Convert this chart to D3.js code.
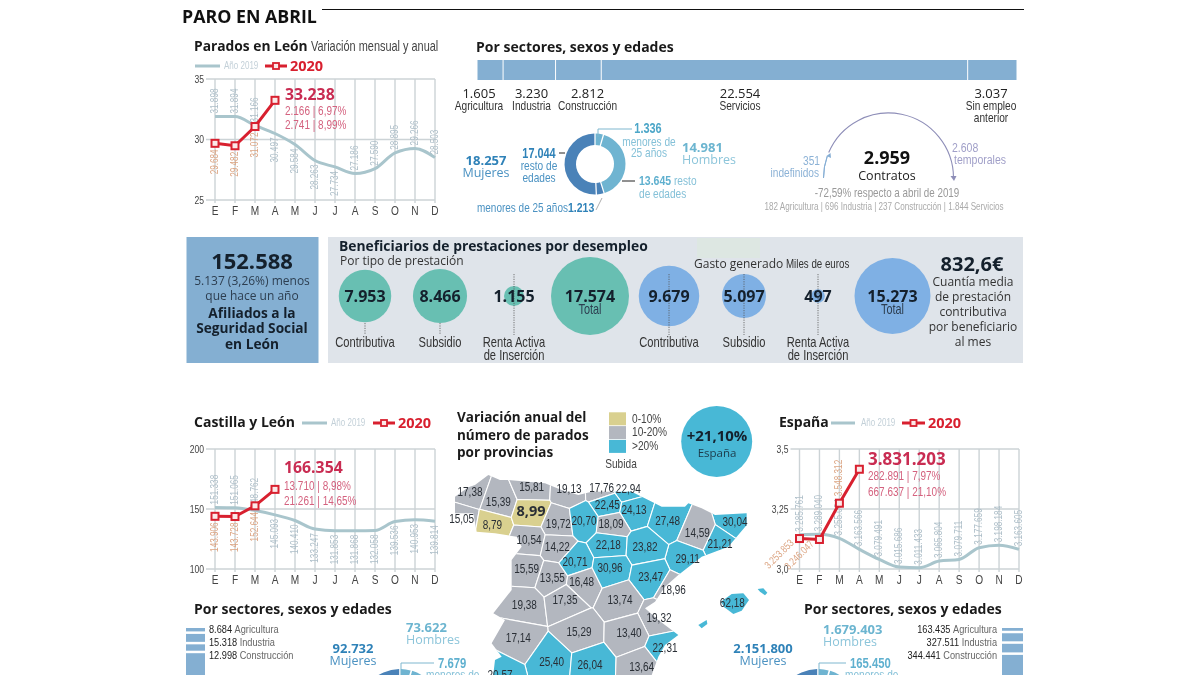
<!DOCTYPE html>
<html><head><meta charset="utf-8">
<script src="https://cdnjs.cloudflare.com/ajax/libs/d3/7.8.5/d3.min.js"></script>
<style>html,body{margin:0;padding:0;background:#fff;overflow:hidden}svg{display:block;filter:blur(.3px)}</style>
</head><body><svg id="c" width="1200" height="675"></svg>
<script>
const months=["E","F","M","A","M","J","J","A","S","O","N","D"];
const leon2019=[31898,31894,31166,30497,29584,28263,27734,27186,27590,28895,29266,28503];
const leon2020=[29684,29482,31072,33238];
const cyl2019=[151338,151065,148762,145093,140410,133247,131853,131868,132058,139536,140953,139814];
const cyl2020=[143906,143728,152644,166354];
const esp2019=[3285761,3289040,3255084,3163566,3079491,3015686,3011433,3065804,3079711,3177659,3198184,3163605];
const esp2020=[3253853,3246047,3548312,3831203];
const sectorNames=["Agricultura","Industria","Construcción","Servicios","Sin empleo anterior"];
const sectorLeon=[1605,3230,2812,22554,3037];
const sectorCyl=[8684,15318,12998,112000,17354];
const sectorEsp=[163435,327511,344441,2640000,355816];
const donutLeon=[1336,13645,1213,17044];
const contratos=[351,2608];
const prestaciones=[7953,8466,1155,17574];
const gasto=[9679,5097,497,15273];
const provValues=[17.38,15.39,15.81,19.13,17.76,22.94,22.45,24.13,27.48,30.04,14.59,21.21,29.11,15.05,8.79,8.99,19.72,20.70,18.09,10.54,14.22,22.18,23.82,15.59,13.55,20.71,16.48,30.96,23.47,18.96,19.38,17.35,13.74,19.32,17.14,15.29,13.40,22.31,25.40,26.04,13.64,20.57];
const provX=[75,160,260,372,470,550,487,567,668,870,757,825,728,50,142,258,340,417,498,252,337,490,600,245,322,390,410,495,617,685,238,360,525,642,220,402,552,660,320,435,590,165];
const provY=[275,305,262,268,265,268,315,330,362,365,400,432,478,358,375,337,372,362,372,420,440,435,442,508,533,487,547,505,530,570,615,600,600,655,715,697,700,745,785,795,800,825];
const spainX=[30,70,90,130,165,190,300,350,400,440,510,560,610,650,720,730,770,810,905,905,850,770,700,660,630,600,640,680,700,660,640,620,640,660,130,150,170,140,180,145,200,200,230,215,150,95,85,30];
const spainY=[290,262,255,225,240,240,250,270,285,275,275,275,300,320,320,310,325,345,340,375,440,470,525,560,605,625,660,690,705,735,770,825,860,950,950,780,770,730,660,640,570,480,440,410,400,395,340,340];
const mallorcaX=[828,860,895,912,890,865,838];
const mallorcaY=[605,582,580,600,632,642,622];
const menorcaX=[938,955,967,960,945],menorcaY=[567,565,578,586,575];
const ibizaX=[760,785,787,770],ibizaY=[675,660,672,685];
const legendLabels=["0-10%","10-20%",">20%"];
const C={red:"#d8202f",red2:"#c92c52",pink:"#d4627f",line:"#a9c5cc",grid:"#ccd3d6",dark:"#1c2430",blue:"#84afd2",map:"#48b8d6",gray:"#b3b7bf",khaki:"#d9d08f"};
const OS="'Open Sans',sans-serif",NW="'Liberation Sans',sans-serif",NARROW=.78;
const fmt=d3.format(",.0f"),es=v=>fmt(v).replace(/,/g,".");
const svg=d3.select("#c");
function T(x,y,s,o={}){const n=!o.f||o.f===NW;
 const t=svg.append("text").text(s).attr("font-family",o.f||NW).attr("font-size",o.s||11).attr("font-weight",o.w||400)
 .attr("fill",o.c||"#333").attr("text-anchor",o.a||"start");
 if(n)t.attr("transform",`translate(${x},${y}) scale(${NARROW},1)`);else t.attr("x",x).attr("y",y);
 return t;}
function L(x1,y1,x2,y2,c,w,dash){const l=svg.append("line").attr("x1",x1).attr("y1",y1).attr("x2",x2).attr("y2",y2).attr("stroke",c).attr("stroke-width",w||1);if(dash)l.attr("stroke-dasharray",dash);return l;}

// Title
T(182,23,"PARO EN ABRIL",{f:OS,s:17.8,w:700,c:"#111"});
L(322,9.5,1024,9.5,"#111",1);

function lineChart(cfg){
 const x=d3.scalePoint().domain(d3.range(12)).range(cfg.xr);
 const y=d3.scaleLinear().domain(cfg.domain).range(cfg.yr);
 const g=svg.append("g");
 x.domain().forEach(i=>g.append("line").attr("x1",x(i)).attr("x2",x(i)).attr("y1",cfg.yr[1]).attr("y2",cfg.yr[0]+3).attr("stroke",C.grid).attr("stroke-width",1.4));
 cfg.ticks.forEach((t,i)=>{const yy=y(t);
  g.append("line").attr("x1",cfg.xr[0]-9).attr("x2",cfg.xr[1]).attr("y1",yy).attr("y2",yy).attr("stroke",C.grid).attr("stroke-width",1.4);
  g.append("text").attr("transform",`translate(${cfg.xr[0]-11},${yy+3.5}) scale(${NARROW},1)`).attr("text-anchor","end").attr("font-family",NW).attr("font-size",11).attr("fill","#444").text(cfg.tickLabels[i]);});
 months.forEach((m,i)=>g.append("text").attr("transform",`translate(${x(i)},${cfg.yr[0]+15}) scale(${NARROW},1)`).attr("text-anchor","middle").attr("font-family",NW).attr("font-size",13).attr("fill","#444").text(m));
 const ln=d3.line().x((d,i)=>x(i)).y(d=>y(d));
 g.append("path").attr("d",ln.curve(d3.curveMonotoneX)(cfg.a)).attr("fill","none").attr("stroke",C.line).attr("stroke-width",3);
 cfg.a.forEach((v,i)=>{const above=cfg.above.includes(i),yy=y(v)+(above?-3:4);
  g.append("text").attr("transform",`translate(${x(i)+3},${yy}) rotate(-90) scale(${NARROW},1)`).attr("text-anchor",above?"start":"end")
   .attr("font-family",NW).attr("font-size",10.5).attr("fill","#aebfc9").text(es(v));});
 const l2=d3.line().x((d,i)=>x(i)).y(d=>y(d));
 g.append("path").attr("d",l2(cfg.b)).attr("fill","none").attr("stroke",C.red).attr("stroke-width",3);
 cfg.b.forEach((v,i)=>{
  g.append("rect").attr("x",x(i)-3.5).attr("y",y(v)-3.5).attr("width",7).attr("height",7).attr("fill","#fbe9e9").attr("stroke",C.red).attr("stroke-width",2);
  if(i<3){let tr;
   if(cfg.diag&&i<2) tr=`translate(${x(i)-5},${y(v)+5}) rotate(-45) scale(${NARROW},1)`;
   else if(cfg.aboveB&&cfg.aboveB.includes(i)) tr=`translate(${x(i)+3},${y(v)-7}) rotate(-90) scale(${NARROW},1)`;
   else tr=`translate(${x(i)+3},${y(v)+6}) rotate(-90) scale(${NARROW},1)`;
   const up=cfg.aboveB&&cfg.aboveB.includes(i);
   g.append("text").attr("transform",tr).attr("text-anchor",up?"start":"end").attr("font-family",NW).attr("font-size",10.5).attr("fill","#dca583").text(es(v));}
 });
 const lx=cfg.legX;
 L(lx[0],cfg.legY,lx[1],cfg.legY,C.line,3);
 T(lx[2],cfg.legY+3,"Año 2019",{s:10.3,c:"#c3d0d8"});
 L(lx[3],cfg.legY,lx[4],cfg.legY,C.red,3);
 svg.append("rect").attr("x",(lx[3]+lx[4])/2-3).attr("y",cfg.legY-3).attr("width",6).attr("height",6).attr("fill","#fbe9e9").attr("stroke",C.red).attr("stroke-width",1.8);
 T(lx[5],cfg.legY+5,"2020",{f:OS,s:14.5,w:700,c:C.red});
 T(cfg.an[0],cfg.an[1],es(cfg.b[3]),{f:OS,s:cfg.an[2],w:700,c:C.red2});
 T(cfg.an[0],cfg.an[3],cfg.an[5],{s:12.8,c:C.pink});
 T(cfg.an[0],cfg.an[4],cfg.an[6],{s:12.8,c:C.pink});
}
T(194,51,"Parados en León",{f:OS,s:13.8,w:700,c:"#1a1a1a"});
T(311,51,"Variación mensual y anual",{s:14,c:"#444"});
lineChart({a:leon2019,b:leon2020,xr:[215,435],yr:[200,79],domain:[25000,35000],ticks:[25000,30000,35000],tickLabels:["25","30","35"],
 above:[0,1,2,7,8,9,10,11],legX:[195,220,224,265,287,290],legY:66,an:[285,100,15.8,115,129,"2.166 | 6,97%","2.741 | 8,99%"]});
T(194,427,"Castilla y León",{f:OS,s:14,w:700,c:"#1a1a1a"});
lineChart({a:cyl2019,b:cyl2020,xr:[215,435],yr:[569,449],domain:[100000,200000],ticks:[100000,150000,200000],tickLabels:["100","150","200"],
 above:[0,1,2],legX:[302,327,331,373,395,398],legY:423,an:[284,473,15.8,490,505,"13.710 | 8,98%","21.261 | 14,65%"]});
T(779,427,"España",{f:OS,s:14,w:700,c:"#1a1a1a"});
lineChart({a:esp2019,b:esp2020,xr:[799.5,1019],yr:[569,449],domain:[3000000,4000000],ticks:[3000000,3500000,4000000],tickLabels:["3,0","3,25","3,5"],
 above:d3.range(12),aboveB:[2],diag:true,legX:[831,855,861,902,925,928],legY:423,an:[868,465,17,480,496,"282.891 | 7,97%","667.637 | 21,10%"]});

// Sector bar
T(476,52,"Por sectores, sexos y edades",{f:OS,s:14,w:700,c:"#1a1a1a"});
const sx=d3.scaleLinear().domain([0,d3.sum(sectorLeon)]).range([477,1017]);
let acc=0;sectorLeon.forEach(v=>{svg.append("rect").attr("x",sx(acc)+.5).attr("y",60).attr("width",sx(v)-sx(0)-1).attr("height",20).attr("fill",C.blue);acc+=v;});
[[479,"Agricultura"],[531.5,"Industria"],[587.5,"Construcción"],[740,"Servicios"],[991,"Sin empleo"]].forEach((d,i)=>{
 T(d[0],98,es(sectorLeon[i]),{f:OS,s:13,a:"middle",c:"#222"});T(d[0],110,d[1],{s:13,a:"middle",c:"#333"});});
T(991,122,"anterior",{s:13,a:"middle",c:"#333"});

// Donut
const pie=d3.pie().sort(null).padAngle(.035);
function donut(cx,cy,r0,r1){
 const arc=d3.arc().innerRadius(r0).outerRadius(r1),cols=["#6fb4d1","#6fb4d1","#4a82b8","#4a82b8"];
 svg.append("g").attr("transform",`translate(${cx},${cy})`).selectAll("path").data(pie(donutLeon)).join("path").attr("d",arc).attr("fill",(d,i)=>cols[i]);
}
donut(595,164,19,30.5);
T(648,133,es(donutLeon[0]),{s:14,w:700,a:"middle",c:"#4ca6c8"});
T(649,146,"menores de",{s:13,a:"middle",c:"#85c1d8"});T(649,157,"25 años",{s:13,a:"middle",c:"#85c1d8"});
svg.append("path").attr("d","M598 137V129H632").attr("fill","none").attr("stroke","#7fb7cf");
T(682,152,"14.981",{f:OS,s:13,w:700,c:"#6cb5d0"});T(682,164,"Hombres",{f:OS,s:12.5,c:"#8cc5da"});
T(486,165,"18.257",{f:OS,s:13,w:700,a:"middle",c:"#2f82b8"});T(486,177,"Mujeres",{f:OS,s:12.5,a:"middle",c:"#4b92c2"});
T(539,158,es(donutLeon[3]),{s:14,w:700,a:"middle",c:"#2f82b8"});
T(539,170,"resto de",{s:13,a:"middle",c:"#4b92c2"});T(539,182,"edades",{s:13,a:"middle",c:"#4b92c2"});
L(559,153,565,153,"#222",1);L(622,181,635,181,"#222",1);
T(639,185,es(donutLeon[1]),{s:13.5,w:700,c:"#5fb0cf"});T(674,185,"resto",{s:13,c:"#85c1d8"});T(639,198,"de edades",{s:13,c:"#85c1d8"});
T(477,212,"menores de 25 años",{s:12.8,c:"#4b92c2"});T(568,212,es(donutLeon[2]),{s:13.5,w:700,c:"#2f82b8"});
L(596,210,602,198,"#999",.8);

// Contratos arc
const ang=d3.scaleLinear().domain([0,d3.sum(contratos)]).range([-Math.PI/2,Math.PI/2]);
const ca=d3.arc().innerRadius(65).outerRadius(65);
const cg=svg.append("g").attr("transform","translate(888.5,178)");
cg.append("path").attr("d",ca({startAngle:ang(0),endAngle:ang(contratos[0])-.03})).attr("fill","none").attr("stroke","#86aed4").attr("stroke-width",1);
cg.append("path").attr("d",ca({startAngle:ang(contratos[0])+.03,endAngle:ang(contratos[0]+contratos[1])})).attr("fill","none").attr("stroke","#8e8eb8").attr("stroke-width",1.1);
svg.append("path").attr("d","M826.5 156l4-3 .5 5z").attr("fill","#86aed4");
svg.append("path").attr("d","M950.5 176l3.5 5 2.5-5z").attr("fill","#8e8eb8");
T(887,164,"2.959",{f:OS,s:18,w:700,a:"middle",c:"#111"});
T(887,180,"Contratos",{f:OS,s:12.5,a:"middle",c:"#222"});
T(820,165,"351",{s:13,a:"end",c:"#8cb2d6"});T(819,177,"indefinidos",{s:13,a:"end",c:"#8cb2d6"});
T(952,152,"2.608",{s:13.5,c:"#a09fc8"});T(954,164,"temporales",{s:13.5,c:"#a09fc8"});
T(887,197,"-72,59% respecto a abril de 2019",{s:12.6,a:"middle",c:"#999"});
T(884,210,"182 Agricultura | 696 Industria | 237 Construcción | 1.844 Servicios",{s:10.4,a:"middle",c:"#aaa"});

// Afiliados panel
svg.append("rect").attr("x",186.5).attr("y",237).attr("width",132).attr("height",126).attr("fill",C.blue);
T(252,269,"152.588",{f:OS,s:22,w:700,a:"middle",c:"#14202c"});
T(252,285,"5.137 (3,26%) menos",{f:OS,s:12,a:"middle",c:"#2d3e50"});
T(252,300,"que hace un año",{f:OS,s:12,a:"middle",c:"#2d3e50"});
["Afiliados a la","Seguridad Social","en León"].forEach((s,i)=>T(252,318+i*15.3,s,{f:OS,s:13.7,w:700,a:"middle",c:"#14202c"}));

// Benefits panel
svg.append("rect").attr("x",328).attr("y",237).attr("width",695).attr("height",126).attr("fill","#dfe4ea");
svg.append("rect").attr("x",697).attr("y",238).attr("width",63).attr("height",20).attr("fill","#dde7e2");
T(339,251,"Beneficiarios de prestaciones por desempleo",{f:OS,s:13.85,w:700,c:"#14202c"});
T(340,265,"Por tipo de prestación",{f:OS,s:12,c:"#333"});
T(694,268,"Gasto generado",{f:OS,s:12,c:"#333"});T(786,268,"Miles de euros",{s:12.5,c:"#333"});
const rT=d3.scaleSqrt().domain([0,d3.max(prestaciones)]).range([0,39]);
const rB=d3.scaleSqrt().domain([0,d3.max(gasto)]).range([0,38]);
const tipos=["Contributiva","Subsidio",["Renta Activa","de Inserción"],null];
function bubbles(vals,xs,r,col,dots){
 vals.forEach((v,i)=>{
  svg.append("circle").attr("cx",xs[i]).attr("cy",296).attr("r",r(v)).attr("fill",col);
  if(dots[i])L(xs[i],dots[i][0],xs[i],dots[i][1],"#555",.8,"1.2 1.2");
  T(xs[i],302,es(v),{f:OS,s:16,w:700,a:"middle",c:"#14202c"});
  if(i===3)T(xs[i],314,"Total",{s:14,a:"middle",c:"#2d3e50"});
  const n=tipos[i];
  if(Array.isArray(n)){T(xs[i],347,n[0],{s:14.3,a:"middle",c:"#333"});T(xs[i],360,n[1],{s:14.3,a:"middle",c:"#333"});}
  else if(n)T(xs[i],347,n,{s:14.3,a:"middle",c:"#333"});
 });
}
bubbles(prestaciones,[365,440,514,590],rT,"#68bfb2",[[323,335],[323,335],[274,335],null]);
bubbles(gasto,[669,744,818,892.5],rB,"#7fb0e4",[[274,335],[274,335],[274,335],null]);
T(972,271,"832,6€",{f:OS,s:20,w:700,a:"middle",c:"#14202c"});
["Cuantía media","de prestación","contributiva","por beneficiario","al mes"].forEach((s,i)=>T(973,286+i*15.1,s,{f:OS,s:12,a:"middle",c:"#333"}));

// Map
["Variación anual del","número de parados","por provincias"].forEach((s,i)=>T(457,422+i*17.5,s,{f:OS,s:13.5,w:700,c:"#1a1a1a"}));
const mcol=d3.scaleThreshold().domain([10,20]).range([C.khaki,C.gray,C.map]);
legendLabels.forEach((s,i)=>{
 svg.append("rect").attr("x",609).attr("y",412.3+i*13.8).attr("width",17).attr("height",13).attr("fill",mcol.range()[i]);
 T(632,422.5+i*13.8,s,{s:13,c:"#444"});});
T(621,468,"Subida",{s:13,a:"middle",c:"#444"});
svg.append("circle").attr("cx",716.7).attr("cy",441.5).attr("r",35.5).attr("fill",C.map);
T(717,441,"+21,10%",{f:OS,s:15,w:700,a:"middle",c:"#14202c"});
T(717,457,"España",{f:OS,s:11.5,a:"middle",c:"#1c3a4a"});
const mx=d3.scaleLinear().domain([0,990]).range([445,775]),my=d3.scaleLinear().domain([0,825]).range([400,675]);
const pts=provX.map((v,i)=>[mx(v),my(provY[i])]);
const vor=d3.Delaunay.from(pts).voronoi([440,470,800,800]);
const outline=d3.line().curve(d3.curveLinearClosed);
const defs=svg.append("defs");
defs.append("clipPath").attr("id","sp").append("path").attr("d",outline(spainX.map((v,i)=>[mx(v),my(spainY[i])])));
const mg=svg.append("g").attr("clip-path","url(#sp)");
provValues.forEach((v,i)=>mg.append("path").attr("d",vor.renderCell(i)).attr("fill",mcol(v)).attr("stroke","#fff").attr("stroke-width",1.1));
[[mallorcaX,mallorcaY],[menorcaX,menorcaY],[ibizaX,ibizaY]].forEach(a=>svg.append("path").attr("d",d3.line().curve(d3.curveLinearClosed)(a[0].map((v,i)=>[mx(v),my(a[1][i])]))).attr("fill",C.map));
const dec=d3.format(".2f"),cm=v=>dec(v).replace(".",",");
provValues.forEach((v,i)=>{const big=v===8.99;
 T(pts[i][0],pts[i][1]+4,cm(v),{s:big?14.5:12.8,w:big?700:400,a:"middle",c:"#2a2f36",f:big?OS:NW});});
T(mx(862),my(608)+4,"62,18",{s:12.8,a:"middle",c:"#2a2f36"});

// Bottom blocks
T(194,614,"Por sectores, sexos y edades",{f:OS,s:14,w:700,c:"#1a1a1a"});
T(804,614,"Por sectores, sexos y edades",{f:OS,s:14,w:700,c:"#1a1a1a"});
function vbar(vals,x,w,h){const y=d3.scaleLinear().domain([0,h]).range([628,675]);let a=0;
 vals.forEach(v=>{svg.append("rect").attr("x",x).attr("y",y(a)).attr("width",w).attr("height",Math.max(0,y(v)-y(0)-2.5)).attr("fill",C.blue);a+=v;});}
vbar(sectorCyl,186,19,69000);
vbar(sectorEsp,1002,21,1460000);
[0,1,2].forEach(i=>{
 const a=T(209,633+i*13,"",{s:11.8,c:"#333"});
 a.append("tspan").attr("fill","#222").text(es(sectorCyl[i])+" ");a.append("tspan").attr("fill","#666").text(sectorNames[i]);
 const b=T(997,633+i*13,"",{s:11.8,a:"end",c:"#333"});
 b.append("tspan").attr("fill","#222").text(es(sectorEsp[i])+" ");b.append("tspan").attr("fill","#666").text(sectorNames[i]);
});
T(353,653,"92.732",{f:OS,s:13,w:700,a:"middle",c:"#2f82b8"});T(353,665,"Mujeres",{f:OS,s:12.5,a:"middle",c:"#4b92c2"});
T(406,632,"73.622",{f:OS,s:13,w:700,c:"#6cb5d0"});T(406,644,"Hombres",{f:OS,s:12.5,c:"#8cc5da"});
T(438,668,"7.679",{s:14.5,w:700,c:"#5fb0cf"});T(426,679,"menores de",{s:13,c:"#85c1d8"});
svg.append("path").attr("d","M401 675V663H434").attr("fill","none").attr("stroke","#7fb7cf");
T(763,653,"2.151.800",{f:OS,s:13,w:700,a:"middle",c:"#2f82b8"});T(763,665,"Mujeres",{f:OS,s:12.5,a:"middle",c:"#4b92c2"});
T(823,634,"1.679.403",{f:OS,s:13,w:700,c:"#6cb5d0"});T(823,646,"Hombres",{f:OS,s:12.5,c:"#8cc5da"});
T(850,668,"165.450",{s:14.5,w:700,c:"#5fb0cf"});T(845,679,"menores de",{s:13,c:"#85c1d8"});
svg.append("path").attr("d","M819 675V663H846").attr("fill","none").attr("stroke","#7fb7cf");
donut(400,710,22,41);donut(818,710,22,41);
</script></body></html>
